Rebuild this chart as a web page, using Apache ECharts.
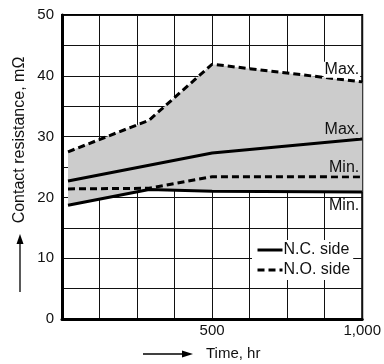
<!DOCTYPE html>
<html><head><meta charset="utf-8">
<script src="https://cdn.jsdelivr.net/npm/echarts@6/dist/echarts.min.js"></script>
<style>html,body{margin:0;padding:0;background:#fff}#c{width:384px;height:364px}</style>
</head><body><div id="c"></div>
<script>
// Data (time in hr, contact resistance in mOhm)
var ncMax = [[20, 22.7], [500, 27.3], [1000, 29.6]];
var ncMin = [[20, 18.7], [290, 21.3], [500, 21.0], [1000, 20.9]];
var noMax = [[20, 27.5], [290, 32.7], [500, 41.9], [1000, 39.0]];
var noMin = [[20, 21.4], [290, 21.5], [500, 23.4], [1000, 23.4]];
var xTickLabels = {500: '500', 1000: '1,000'};
var yTickLabels = [0, 10, 20, 30, 40, 50];
var legendNames = ['N.C. side', 'N.O. side'];
var endLabels = [
  {text: 'Max.', x: 1000, y: 41.0, bg: '#fff'},
  {text: 'Max.', x: 1000, y: 31.1, bg: '#ccc'},
  {text: 'Min.', x: 1000, y: 24.9, bg: '#ccc'},
  {text: 'Min.', x: 1000, y: 18.6, bg: '#fff'}
];

var FONT = 'Liberation Sans, Arial, sans-serif';
var chart = echarts.init(document.getElementById('c'), null, {renderer: 'canvas'});

var lineStyleSolid = {color: '#000', width: 3, type: 'solid'};
var lineStyleDash = {color: '#000', width: 3, type: [7, 4]};

chart.setOption({
  animation: false,
  backgroundColor: '#fff',
  grid: {left: 62, right: 20, top: 15, bottom: 45, show: true, borderColor: '#000', borderWidth: 2, backgroundColor: 'transparent'},
  xAxis: {
    type: 'value', min: 0, max: 1000, interval: 125,
    axisLine: {show: true, lineStyle: {color: '#000', width: 3}},
    axisTick: {show: false},
    splitLine: {show: true, lineStyle: {color: '#111', width: 1}},
    axisLabel: {
      color: '#111', fontSize: 15, fontFamily: FONT, margin: 4, showMaxLabel: true, showMinLabel: true,
      formatter: function (v) { return xTickLabels[v] || ''; }
    }
  },
  yAxis: {
    type: 'value', min: 0, max: 50, interval: 5,
    axisLine: {show: true, lineStyle: {color: '#000', width: 3}},
    axisTick: {show: false},
    splitLine: {show: true, lineStyle: {color: '#111', width: 1}},
    axisLabel: {
      color: '#111', fontSize: 15, fontFamily: FONT, margin: 8,
      formatter: function (v) { return yTickLabels.indexOf(v) >= 0 ? String(v) : ''; }
    }
  },
  legend: {
    data: legendNames, orient: 'vertical', left: 252, top: 240,
    itemWidth: 25, itemHeight: 12, itemGap: 4,
    itemStyle: {opacity: 0},
    lineStyle: {width: 3, type: 'inherit'},
    backgroundColor: '#fff', padding: [2, 3, 2, 4],
    textStyle: {color: '#111', fontSize: 16, fontFamily: FONT, padding: [0, 0, 0, -4]},
    inactiveColor: '#000'
  },
  series: [
    {
      type: 'custom', name: 'band', silent: true, z: 1,
      data: [[0, 0]],
      renderItem: function (params, api) {
        if (params.dataIndex !== 0) return null;
        var pts = [];
        noMax.forEach(function (p) { pts.push(api.coord(p)); });
        ncMin.slice().reverse().forEach(function (p) { pts.push(api.coord(p)); });
        return {type: 'polygon', shape: {points: pts}, style: {fill: '#cccccc', stroke: null}};
      }
    },
    {type: 'line', name: 'N.C. side', data: ncMax, symbol: 'none', lineStyle: lineStyleSolid, itemStyle: {color: '#000'}, z: 3},
    {type: 'line', name: 'N.C. side', data: ncMin, symbol: 'none', lineStyle: lineStyleSolid, itemStyle: {color: '#000'}, z: 3},
    {type: 'line', name: 'N.O. side', data: noMax, symbol: 'none', lineStyle: lineStyleDash, itemStyle: {color: '#000'}, z: 3},
    {type: 'line', name: 'N.O. side', data: noMin, symbol: 'none', lineStyle: lineStyleDash, itemStyle: {color: '#000'}, z: 3}
  ]
});

var graphics = [];
endLabels.forEach(function (l) {
  var p = chart.convertToPixel({gridIndex: 0}, [l.x, l.y]);
  graphics.push({
    type: 'text', x: p[0] - 2, y: p[1], z: 10,
    style: {text: l.text, fill: '#111', font: '16px ' + FONT, align: 'right', verticalAlign: 'middle',
      backgroundColor: l.bg, padding: [0, 1, 0, 1]}
  });
});
// y axis title with arrow
graphics.push({
  type: 'text', x: 20, y: 140, rotation: Math.PI / 2, z: 10,
  style: {text: 'Contact resistance, m\u03A9', fill: '#111', font: '16px ' + FONT, align: 'center', verticalAlign: 'middle'}
});
graphics.push({type: 'line', shape: {x1: 20, y1: 292, x2: 20, y2: 242}, style: {stroke: '#000', lineWidth: 1.3}});
graphics.push({type: 'polygon', shape: {points: [[20, 234], [16.5, 244], [23.5, 244]]}, style: {fill: '#000'}});
// x axis title with arrow
graphics.push({type: 'line', shape: {x1: 143, y1: 354, x2: 184, y2: 354}, style: {stroke: '#000', lineWidth: 1.3}});
graphics.push({type: 'polygon', shape: {points: [[193, 354], [182, 350.5], [182, 357.5]]}, style: {fill: '#000'}});
graphics.push({
  type: 'text', x: 206, y: 354, z: 10,
  style: {text: 'Time, hr', fill: '#111', font: '15px ' + FONT, align: 'left', verticalAlign: 'middle'}
});
chart.setOption({graphic: graphics});
</script>
</body></html>
